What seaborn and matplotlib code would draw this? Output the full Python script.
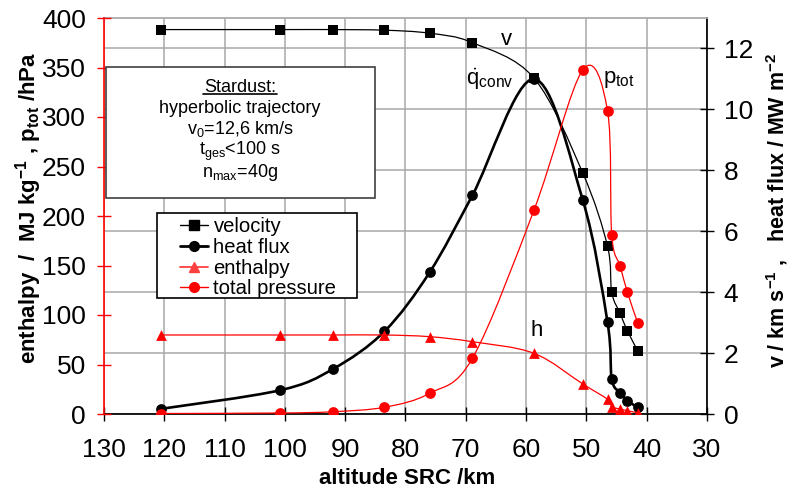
import numpy as np
import matplotlib
matplotlib.use('Agg')
import matplotlib.pyplot as plt
import seaborn as sns
from matplotlib.path import Path
from matplotlib.patches import PathPatch, Rectangle
from matplotlib.lines import Line2D

# Stardust re-entry data
altitude = [120.5, 100.8, 92.0, 83.5, 76.0, 68.9, 58.7, 50.6, 46.5, 45.8, 44.4, 43.2, 41.5]
velocity = [12.62, 12.62, 12.62, 12.60, 12.50, 12.19, 11.03, 7.91, 5.51, 3.99, 3.30, 2.73, 2.08]
heat_flux = [0.17, 0.78, 1.48, 2.71, 4.65, 7.18, 11.0, 7.02, 3.01, 1.15, 0.70, 0.44, 0.22]
enthalpy = [79.8, 79.8, 79.8, 79.8, 78.1, 73.0, 61.3, 30.3, 14.8, 7.4, 5.0, 3.3, 1.3]
pressure = [0.5, 1.0, 2.3, 6.8, 20.9, 56.3, 205.8, 347.5, 306.4, 180.8, 149.5, 122.9, 92.2]

x_ticks = list(range(130, 29, -10))
left_ticks = list(range(0, 401, 50))
right_ticks = list(range(0, 13, 2))

series_names = ['velocity', 'heat flux', 'enthalpy', 'total pressure']
box_lines = ["Stardust:", "hyperbolic trajectory", r"v$_0$=12,6 km/s",
             r"t$_{ges}$<100 s", r"n$_{max}$=40g"]

sns.set_theme(style='white')
plt.rcParams['font.family'] = ['Liberation Sans', 'DejaVu Sans']
plt.rcParams['mathtext.fontset'] = 'custom'
plt.rcParams['mathtext.rm'] = 'Liberation Sans'
plt.rcParams['mathtext.it'] = 'Liberation Sans:italic'
plt.rcParams['mathtext.bf'] = 'Liberation Sans:bold'
plt.rcParams['mathtext.default'] = 'regular'
plt.rcParams['text.color'] = 'black'
plt.rcParams['axes.labelcolor'] = 'black'
plt.rcParams['xtick.color'] = 'black'
plt.rcParams['ytick.color'] = 'black'


def smooth_path(x, y):
    # Excel-like smoothed line: Catmull-Rom segments as cubic Beziers
    pts = np.column_stack([x, y]).astype(float)
    n = len(pts)
    verts = [pts[0]]
    codes = [Path.MOVETO]
    for i in range(n - 1):
        p0 = pts[i - 1] if i > 0 else pts[i]
        p1 = pts[i]
        p2 = pts[i + 1]
        p3 = pts[i + 2] if i + 2 < n else pts[i + 1]
        verts += [p1 + (p2 - p0) / 6, p2 - (p3 - p1) / 6, p2]
        codes += [Path.CURVE4] * 3
    return Path(verts, codes)


fig, ax = plt.subplots(figsize=(7.92, 4.95), dpi=100)
fig.subplots_adjust(left=104/792, right=707/792, top=1-18/495, bottom=1-414/495)
axl = ax.twinx()
ax.yaxis.tick_right()
ax.yaxis.set_label_position('right')
axl.yaxis.tick_left()
axl.yaxis.set_label_position('left')

# black series on right axis (drawn underneath)
ax.add_patch(PathPatch(smooth_path(altitude, velocity), fill=False, edgecolor='black', lw=0.9))
ax.add_patch(PathPatch(smooth_path(altitude, heat_flux), fill=False, edgecolor='black', lw=1.9))
sns.scatterplot(x=altitude, y=velocity, marker='s', color='black', s=50, linewidth=0, ax=ax, zorder=3)
sns.scatterplot(x=altitude, y=heat_flux, marker='o', color='black', s=60, linewidth=0, ax=ax, zorder=3)

# red series on left axis
axl.add_patch(PathPatch(smooth_path(altitude, enthalpy), fill=False, edgecolor='red', lw=0.9))
axl.add_patch(PathPatch(smooth_path(altitude, pressure), fill=False, edgecolor='red', lw=0.9))
sns.scatterplot(x=altitude, y=enthalpy, marker='^', color='red', s=60, linewidth=0, ax=axl, zorder=3)
sns.scatterplot(x=altitude, y=pressure, marker='o', color='red', s=60, linewidth=0, ax=axl, zorder=3)

ax.set_xlim(130, 30)
ax.set_ylim(0, 13)
axl.set_ylim(0, 400)
ax.set_xticks(x_ticks)
ax.set_yticks(right_ticks)
axl.set_yticks(left_ticks)

ax.grid(True, color='#a8a8a8', lw=1.1)
ax.set_axisbelow(True)

ax.spines['left'].set_visible(False)
ax.spines['top'].set_color('#a8a8a8')
ax.spines['right'].set_color('black')
ax.spines['bottom'].set_color('black')
for s in ['right', 'top', 'bottom']:
    axl.spines[s].set_visible(False)
axl.spines['left'].set_color('red')
axl.spines['left'].set_linewidth(1.2)

ax.tick_params(axis='x', direction='inout', length=10, width=1, color='black', labelcolor='black',
               labelsize=19, pad=12, bottom=True)
ax.tick_params(axis='y', direction='inout', length=10, width=1, color='black', labelcolor='black',
               labelsize=19, pad=7, right=True)
axl.tick_params(axis='y', direction='inout', length=10, width=1, color='red', labelcolor='black', labelsize=19,
                pad=8, left=True)

axl.set_ylabel(r"enthalpy  /  MJ kg$^{\mathbf{-1}}$ , p$_{\mathbf{tot}}$ /hPa", fontsize=16, fontweight='bold')
axl.yaxis.set_label_coords(-0.100, 0.52)
ax.set_ylabel(r"v / km s$^{\mathbf{-1}}$ ,   heat flux / MW m$^{\mathbf{-2}}$", fontsize=15.5,
              fontweight='bold')
ax.yaxis.set_label_coords(1.095, 0.515)
ax.set_xlabel("altitude SRC /km", fontsize=16, fontweight='bold')
ax.xaxis.set_label_coords(0.502, -0.136)

# curve labels
ax.text(63.2, 12.13, "v", fontsize=16, ha='center', va='baseline')
axl.text(66.0, 332, r"$\dot{q}_{conv}$", fontsize=16, ha='center', va='baseline')
axl.text(47.2, 334, r"p$_{tot}$", fontsize=16, ha='left', va='baseline')
axl.text(58.3, 79, "h", fontsize=16, ha='center', va='baseline')

# info box
fig.patches.append(Rectangle((106/792, 1-198/495), 269/792, 131/495, transform=fig.transFigure,
                             facecolor='white', edgecolor='#404040', lw=1.2, zorder=5))
baselines = [92, 113, 134, 155, 177]
for txt, yb in zip(box_lines, baselines):
    fig.text(240/792, 1-yb/495, txt, fontsize=13, ha='center', va='baseline', zorder=6)
fig.lines.append(Line2D([203/792, 277/792], [1-94/495, 1-94/495], transform=fig.transFigure,
                        color='black', lw=1.2, zorder=6))

# legend with its own frame
axl.add_patch(Rectangle((157/792, 1-298/495), 200/792, 85/495, transform=fig.transFigure,
                        facecolor='white', edgecolor='black', lw=1.2, zorder=9, clip_on=False))
handles = [
    Line2D([], [], color='black', lw=1, marker='s', markersize=7),
    Line2D([], [], color='black', lw=2, marker='o', markersize=7),
    Line2D([], [], color='#ff4040', lw=1.3, marker='^', markersize=7),
    Line2D([], [], color='red', lw=1, marker='o', markersize=7),
]
leg = axl.legend(handles, series_names,
                 loc='upper left', bbox_to_anchor=(180/792, 1-217/495), bbox_transform=fig.transFigure,
                 borderaxespad=0, borderpad=0, fontsize=14.6, frameon=False,
                 handlelength=1.4, handletextpad=0.25, labelspacing=0.09)
leg.set_zorder(10)

fig.savefig('out.png', dpi=100)
